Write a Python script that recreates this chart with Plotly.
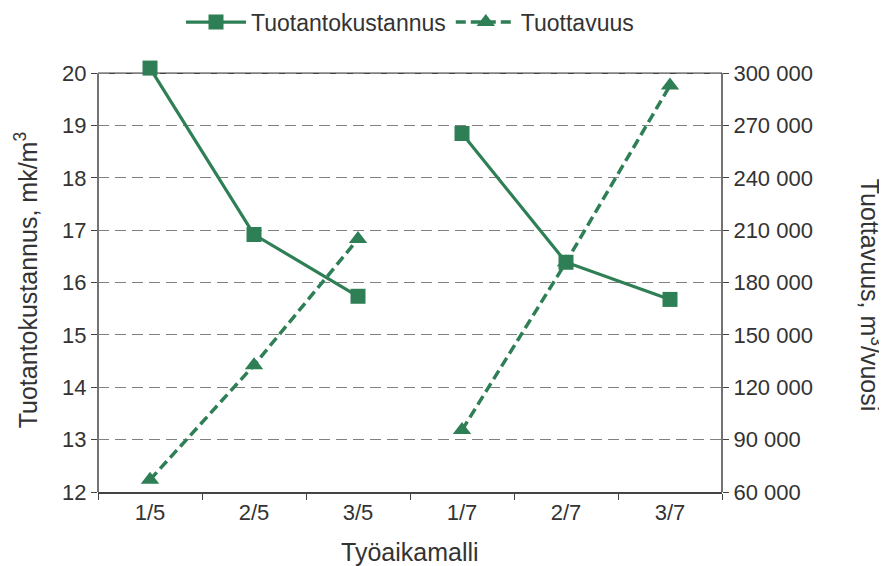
import plotly.graph_objects as go

categories = ["1/5", "2/5", "3/5", "1/7", "2/7", "3/7"]
kustannus = [20.1, 16.92, 15.74, 18.85, 16.39, 15.68]      # mk/m3
tuottavuus = [67000, 132700, 205000, 95500, 191700, 293000]  # m3/vuosi
groups = [[0, 1, 2], [3, 4, 5]]
left_ticks = [12, 13, 14, 15, 16, 17, 18, 19, 20]
right_ticks = [60000, 90000, 120000, 150000, 180000, 210000, 240000, 270000, 300000]

GREEN = "#2e7f55"
TXT = "#333333"
AX = "#444444"
FONT = "Liberation Sans, Arial, sans-serif"

# headroom above 20 so the top marker is not clipped; frame drawn at 20
HEAD = 0.35
y1_range = [left_ticks[0], left_ticks[-1] + HEAD]
scale = (right_ticks[-1] - right_ticks[0]) / (left_ticks[-1] - left_ticks[0])
y2_range = [right_ticks[0], right_ticks[-1] + HEAD * scale]

fig = go.Figure()
for gi, idx in enumerate(groups):
    fig.add_trace(go.Scatter(
        x=[categories[i] for i in idx], y=[kustannus[i] for i in idx],
        name="Tuotantokustannus", legendgroup="k", showlegend=(gi == 0),
        mode="lines+markers",
        line=dict(color=GREEN, width=3.2),
        marker=dict(symbol="square", size=15, color=GREEN),
    ))
for gi, idx in enumerate(groups):
    fig.add_trace(go.Scatter(
        x=[categories[i] for i in idx], y=[tuottavuus[i] for i in idx],
        name="Tuottavuus", legendgroup="t", showlegend=(gi == 0),
        mode="lines+markers", yaxis="y2",
        line=dict(color=GREEN, width=3.5, dash="10px,5px"),
        marker=dict(symbol="triangle-up", size=16, color=GREEN),
    ))

frame = dict(color=AX, width=1.5)
shapes = [
    dict(type="line", xref="paper", yref="y", x0=0, x1=1, y0=left_ticks[-1], y1=left_ticks[-1], line=frame, layer="below"),
    dict(type="line", xref="paper", yref="y", x0=0, x1=0, y0=left_ticks[0], y1=left_ticks[-1], line=frame, layer="below"),
    dict(type="line", xref="paper", yref="y", x0=1, x1=1, y0=left_ticks[0], y1=left_ticks[-1], line=frame, layer="below"),
]

fig.update_layout(
    width=887, height=566,
    margin=dict(l=90, r=173, t=47, b=82),
    paper_bgcolor="white", plot_bgcolor="white",
    font=dict(family=FONT, color=TXT, size=22),
    separators=", ",
    showlegend=True,
    legend=dict(orientation="h", x=0.5, xanchor="center", y=0.975, yanchor="middle",
                yref="container", font=dict(size=23), bgcolor="rgba(0,0,0,0)",
                itemwidth=60),
    xaxis=dict(
        type="category", categoryorder="array", categoryarray=categories,
        range=[-0.5, len(categories) - 0.5],
        showline=True, linecolor=AX, linewidth=1.5,
        ticks="outside", tickson="boundaries", ticklen=6, tickcolor=AX,
        showgrid=False, tickfont=dict(size=22),
    ),
    yaxis=dict(
        range=y1_range, tickvals=left_ticks, showline=False,
        ticks="outside", ticklen=6, tickcolor=AX, tickwidth=1.2,
        showgrid=True, gridcolor="#808080", griddash="11px,6px", gridwidth=1.3,
        zeroline=False, tickfont=dict(size=22),
    ),
    yaxis2=dict(
        overlaying="y", side="right", range=y2_range, tickvals=right_ticks,
        tickformat=",d", showline=False,
        ticks="outside", ticklen=6, tickcolor=AX, tickwidth=1.2, showgrid=False,
        zeroline=False, tickfont=dict(size=22),
    ),
    shapes=shapes,
    annotations=[
        dict(text="Tuotantokustannus, mk/m<sup>3</sup>", textangle=-90,
             xref="paper", yref="paper", x=-0.115, y=0.485, xanchor="center", yanchor="middle",
             showarrow=False, font=dict(size=25, color=TXT)),
        dict(text="Tuottavuus, m<sup>3</sup>/vuosi", textangle=90,
             xref="paper", yref="paper", x=1.239, y=0.451, xanchor="center", yanchor="middle",
             showarrow=False, font=dict(size=25, color=TXT)),
        dict(text="Työaikamalli",
             xref="paper", yref="paper", x=0.5, y=-0.137, xanchor="center", yanchor="middle",
             showarrow=False, font=dict(size=25, color=TXT)),
    ],
)

fig.write_html("out.html")
